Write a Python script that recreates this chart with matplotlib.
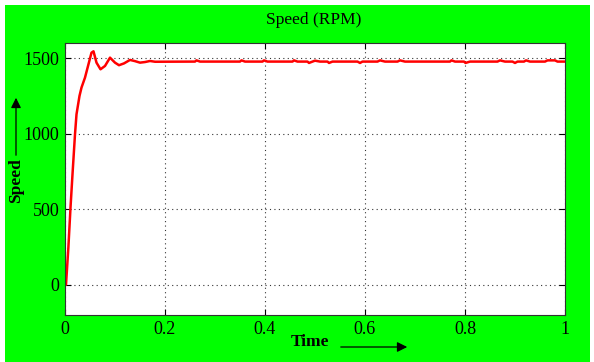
import matplotlib.pyplot as plt
from matplotlib.patches import Rectangle

# speed response
t = [0.0, 0.002, 0.0067, 0.011, 0.015, 0.02, 0.023, 0.029, 0.033, 0.04, 0.047, 0.053,
     0.057, 0.063, 0.071, 0.08, 0.09, 0.1, 0.108, 0.118, 0.13, 0.14, 0.15, 0.16, 0.17,
     0.18, 0.26, 0.263, 0.27, 0.35, 0.353, 0.36, 0.395, 0.398, 0.405, 0.455, 0.458, 0.465,
     0.485, 0.488, 0.495, 0.5, 0.51, 0.525, 0.528, 0.535, 0.585, 0.59, 0.595,
     0.625, 0.63, 0.64, 0.665, 0.67, 0.68, 0.77, 0.773, 0.78, 0.798, 0.801, 0.81,
     0.865, 0.87, 0.88, 0.895, 0.9, 0.905, 0.918, 0.922, 0.93, 0.96, 0.965, 0.98, 0.985, 1.0]
speed = [0, 0, 245, 510, 731, 996, 1128, 1250, 1305, 1371, 1460, 1536,
         1545, 1470, 1426, 1448, 1503, 1470, 1453, 1465, 1488, 1480, 1470, 1474, 1481,
         1476, 1477, 1485, 1477, 1477, 1485, 1477, 1477, 1485, 1477, 1477, 1485, 1477,
         1477, 1468, 1477, 1483, 1477, 1477, 1468, 1477, 1477, 1468, 1477,
         1477, 1485, 1477, 1477, 1485, 1477, 1477, 1485, 1477, 1477, 1468, 1477,
         1477, 1485, 1477, 1477, 1468, 1477, 1477, 1485, 1477, 1477, 1485, 1485, 1477, 1477]

xticks = [0, 0.2, 0.4, 0.6, 0.8, 1]
xticklabels = ["0", "0.2", "0.4", "0.6", "0.8", "1"]
yticks = [0, 500, 1000, 1500]

plt.rcParams['font.family'] = ['Liberation Serif', 'DejaVu Serif']

fig = plt.figure(figsize=(5.94, 3.62), dpi=100, facecolor='white')
fig.patches.append(Rectangle((5/594, 0), 585/594, 357/362, transform=fig.transFigure,
                             facecolor='#00ff00', edgecolor='none', zorder=-1))

ax = fig.add_axes([65/594, 47/362, 500/594, 272/362])
ax.plot(t, speed, color='red', lw=1.8)
ax.set_xlim(0, 1)
ax.set_ylim(-200, 1600)
ax.set_xticks(xticks)
ax.set_xticklabels(xticklabels)
ax.set_yticks(yticks)
ax.tick_params(direction='in', top=True, right=True, labelsize=13, length=4, pad=4)
ax.grid(True, linestyle=(0, (1, 3)), color='#333333', lw=0.8)
for s in ax.spines.values():
    s.set_color('#333333')

fig.text(314/594, 1 - 20/362, "Speed (RPM)", ha='center', va='center', fontsize=12.5)
fig.text(16/594, 1 - 181/362, "Speed", rotation=90, ha='center', va='center',
         fontsize=12.5, fontweight='bold')
fig.text(310/594, 1 - 342/362, "Time", ha='center', va='center',
         fontsize=12.5, fontweight='bold')
fig.add_artist(plt.Annotation("", xy=(16/594, 1 - 95/362), xytext=(16/594, 1 - 158/362),
                              xycoords='figure fraction',
                              arrowprops=dict(arrowstyle='-|>', color='black', lw=0.9,
                                              mutation_scale=15)))
fig.add_artist(plt.Annotation("", xy=(410/594, 1 - 347/362), xytext=(338/594, 1 - 347/362),
                              xycoords='figure fraction',
                              arrowprops=dict(arrowstyle='-|>', color='black', lw=0.9,
                                              mutation_scale=15)))

fig.savefig("out.png", dpi=100, facecolor=fig.get_facecolor())
